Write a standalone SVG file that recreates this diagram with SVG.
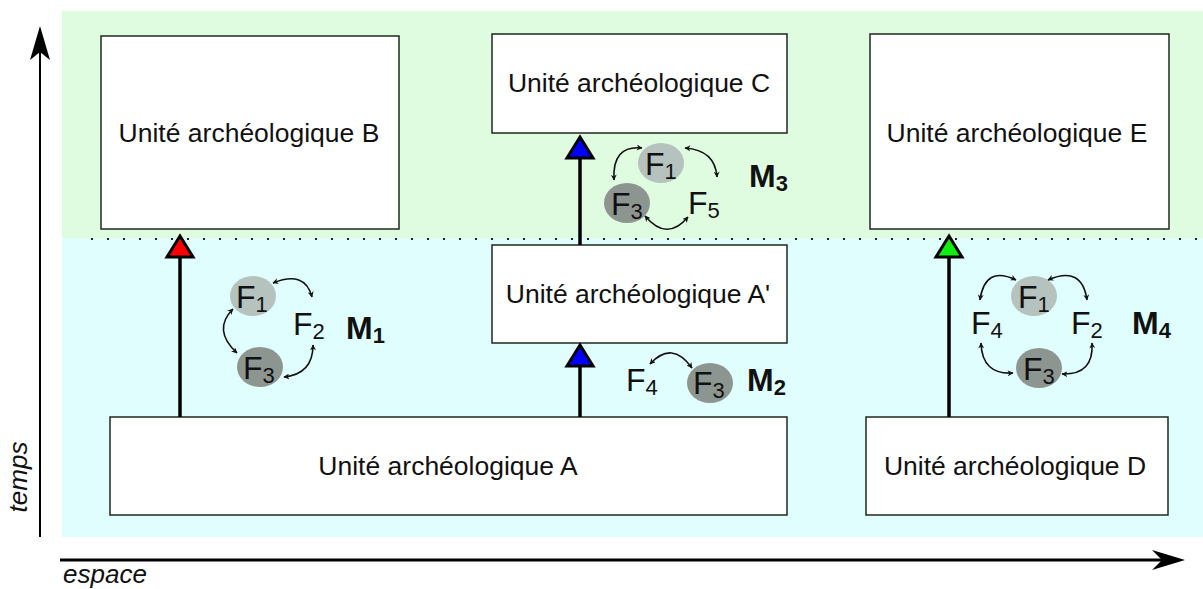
<svg xmlns="http://www.w3.org/2000/svg" width="1203" height="589" viewBox="0 0 1203 589">
<style>
.box{fill:#fff;stroke:#1e2a1e;stroke-width:1.5}
.lbl{font-family:"Liberation Sans",Arial,sans-serif;font-size:26.5px;fill:#111;text-anchor:middle}
.f{font-family:"Liberation Sans",Arial,sans-serif;font-size:32px;fill:#111}
.m{font-family:"Liberation Sans",Arial,sans-serif;font-size:32px;font-weight:bold;fill:#111}
.ax{font-family:"Liberation Sans",Arial,sans-serif;font-size:26px;font-style:italic;fill:#111}
.e1{fill:#b5c2be}
.e3{fill:#8d9591}
.arc{fill:none;stroke:#111;stroke-width:1.6;marker-start:url(#sm);marker-end:url(#sm)}
.stem{stroke:#000;stroke-width:3.5}
.tri{stroke:#000;stroke-width:3;stroke-linejoin:miter}
</style>
<defs>
<marker id="sm" viewBox="0 0 10 10" refX="9" refY="5" markerWidth="6" markerHeight="6" orient="auto-start-reverse" markerUnits="userSpaceOnUse">
<path d="M0,0 L10,5 L0,10 L3,5 Z" fill="#111"/>
</marker>
</defs>
<g id="background">
<rect x="62" y="11" width="1141" height="227" fill="#e0fce0"/>
<rect x="62" y="238" width="1141" height="299" fill="#e0fefe"/>
<line x1="91" y1="239" x2="1203" y2="239" stroke="#222" stroke-width="2" stroke-dasharray="2 14"/>
</g>
<g id="axes">
<line x1="40" y1="537" x2="40" y2="50" stroke="#000" stroke-width="2"/>
<path d="M40,26 L50,60 L40,52 L30,60 Z" fill="#000"/>
<line x1="60" y1="560" x2="1165" y2="560" stroke="#000" stroke-width="3"/>
<path d="M1185,560 L1152,550 L1162,560 L1152,570 Z" fill="#000"/>
<text class="ax" transform="translate(27,477) rotate(-90)" text-anchor="middle">temps</text>
<text class="ax" x="63" y="583">espace</text>
</g>
<g id="nodeB"><rect class="box" x="101" y="36" width="298" height="193"/><text class="lbl" x="249" y="142">Unité archéologique B</text></g>
<g id="nodeC"><rect class="box" x="492" y="34" width="295" height="99"/><text class="lbl" x="639" y="92">Unité archéologique C</text></g>
<g id="nodeE"><rect class="box" x="870" y="34" width="299" height="195"/><text class="lbl" x="1017" y="142">Unité archéologique E</text></g>
<g id="nodeAp"><rect class="box" x="492" y="245" width="295" height="98"/><text class="lbl" x="638" y="303">Unité archéologique A'</text></g>
<g id="nodeA"><rect class="box" x="110" y="417" width="677" height="98"/><text class="lbl" x="448" y="475">Unité archéologique A</text></g>
<g id="nodeD"><rect class="box" x="866" y="417" width="302" height="98"/><text class="lbl" x="1015" y="475">Unité archéologique D</text></g>
<g id="connectors">
<line class="stem" x1="180" y1="417" x2="180" y2="256"/>
<path class="tri" d="M180,236 L193,257 L167,257 Z" fill="#ff0000"/>
<line class="stem" x1="580" y1="245" x2="580" y2="156"/>
<path class="tri" d="M580,137 L593,158 L567,158 Z" fill="#0000ff"/>
<line class="stem" x1="580" y1="417" x2="580" y2="364"/>
<path class="tri" d="M580,345 L593,366 L567,366 Z" fill="#0000ff"/>
<line class="stem" x1="949" y1="417" x2="949" y2="256"/>
<path class="tri" d="M949,236 L962,257 L936,257 Z" fill="#11ee11"/>
</g>
<g id="M1">
<ellipse class="e1" cx="253" cy="296" rx="23" ry="20"/>
<ellipse class="e3" cx="260" cy="367" rx="23" ry="20"/>
<text class="f" x="236" y="308">F<tspan font-size="22" dy="4">1</tspan></text>
<text class="f" x="293" y="335">F<tspan font-size="22" dy="4">2</tspan></text>
<text class="f" x="243" y="379">F<tspan font-size="22" dy="4">3</tspan></text>
<text class="m" x="346" y="339">M<tspan font-size="22" dy="4">1</tspan></text>
<path class="arc" d="M273,283 Q305,270 312,297"/>
<path class="arc" d="M233,309 Q212,330 237,353"/>
<path class="arc" d="M284,377 Q313,374 313,345"/>
</g>
<g id="M2">
<ellipse class="e3" cx="710" cy="383" rx="23" ry="20"/>
<text class="f" x="626" y="391">F<tspan font-size="22" dy="4">4</tspan></text>
<text class="f" x="693" y="394">F<tspan font-size="22" dy="4">3</tspan></text>
<text class="m" x="747" y="391">M<tspan font-size="22" dy="4">2</tspan></text>
<path class="arc" d="M650,364 Q672,340 692,368"/>
</g>
<g id="M3">
<ellipse class="e1" cx="661" cy="163" rx="23" ry="20"/>
<ellipse class="e3" cx="627" cy="203" rx="23" ry="20"/>
<text class="f" x="645" y="175">F<tspan font-size="22" dy="4">1</tspan></text>
<text class="f" x="611" y="215">F<tspan font-size="22" dy="4">3</tspan></text>
<text class="f" x="688" y="214">F<tspan font-size="22" dy="4">5</tspan></text>
<text class="m" x="749" y="187">M<tspan font-size="22" dy="4">3</tspan></text>
<path class="arc" d="M642,148 Q612,145 614,180"/>
<path class="arc" d="M685,148 Q715,150 717,177"/>
<path class="arc" d="M645,216 Q667,242 688,217"/>
</g>
<g id="M4">
<ellipse class="e1" cx="1034" cy="296" rx="23" ry="20"/>
<ellipse class="e3" cx="1039" cy="368" rx="23" ry="20"/>
<text class="f" x="1018" y="308">F<tspan font-size="22" dy="4">1</tspan></text>
<text class="f" x="1023" y="380">F<tspan font-size="22" dy="4">3</tspan></text>
<text class="f" x="971" y="334">F<tspan font-size="22" dy="4">4</tspan></text>
<text class="f" x="1071" y="334">F<tspan font-size="22" dy="4">2</tspan></text>
<text class="m" x="1132" y="334">M<tspan font-size="22" dy="4">4</tspan></text>
<path class="arc" d="M1016,280 Q985,265 980,300"/>
<path class="arc" d="M1048,280 Q1082,265 1087,300"/>
<path class="arc" d="M981,343 Q982,375 1013,373"/>
<path class="arc" d="M1092,343 Q1094,375 1062,374"/>
</g>
</svg>
